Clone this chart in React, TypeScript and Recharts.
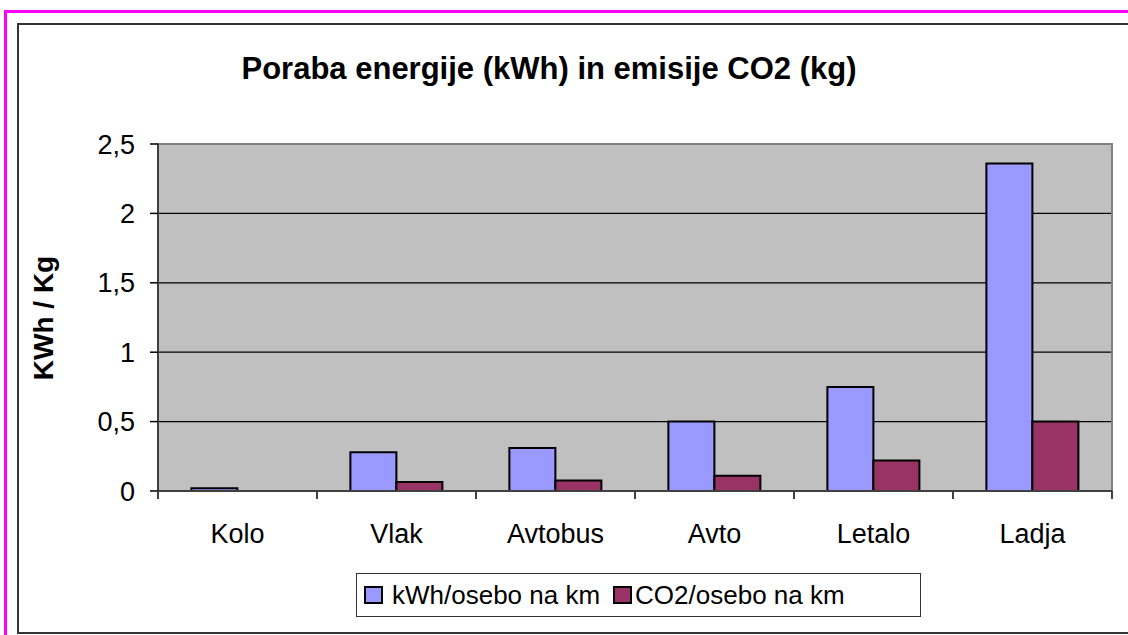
import React from 'react';
import { BarChart, Bar, XAxis, YAxis, CartesianGrid, ReferenceArea } from 'recharts';

const categories = ['Kolo', 'Vlak', 'Avtobus', 'Avto', 'Letalo', 'Ladja'];
const kwhPerKm = [0.02, 0.28, 0.31, 0.5, 0.75, 2.36];
const co2PerKm = [0, 0.065, 0.075, 0.11, 0.22, 0.5];
const yTicks = [0, 0.5, 1, 1.5, 2, 2.5];
const seriesNames = ['kWh/osebo na km', 'CO2/osebo na km'];
const seriesColors = ['#9999FF', '#993366'];

const data = categories.map((name, i) => ({ name, kwh: kwhPerKm[i], co2: co2PerKm[i] }));

const FONT = "'Liberation Sans', Arial, sans-serif";

// category labels centred in the band, tick marks on the band edges (Excel style)
function CategoryTick(props: any) {
  const { x, y, payload, index, visibleTicksCount } = props;
  const half = payload && payload.offset ? payload.offset : 79.5;
  const last = index === visibleTicksCount - 1;
  return (
    <g>
      <line x1={x - half} x2={x - half} y1={y} y2={y + 8} stroke="#404040" strokeWidth={2} />
      {last && <line x1={x + half} x2={x + half} y1={y} y2={y + 8} stroke="#404040" strokeWidth={2} />}
      <text x={x} y={y + 52} textAnchor="middle" fontSize={27} fill="#000">
        {payload.value}
      </text>
    </g>
  );
}

export default function App() {
  return (
    <div
      style={{
        position: 'absolute',
        left: 0,
        top: 0,
        width: 1128,
        height: 635,
        overflow: 'hidden',
        background: '#fff',
        fontFamily: FONT,
      }}
    >
      <div style={{ position: 'absolute', left: 4, top: 10, width: 1300, height: 800, border: '3px solid #FF00FF' }} />
      <div style={{ position: 'absolute', left: 17, top: 23, width: 1300, height: 607, border: '2px solid #333' }} />

      <div
        style={{
          position: 'absolute',
          left: 0,
          top: 53,
          width: 1098,
          textAlign: 'center',
          fontSize: 31,
          fontWeight: 'bold',
          lineHeight: 1,
          whiteSpace: 'nowrap',
        }}
      >
        Poraba energije (kWh) in emisije CO2 (kg)
      </div>

      <div
        style={{
          position: 'absolute',
          left: 44,
          top: 318,
          transform: 'translate(-50%, -50%) rotate(-90deg)',
          fontSize: 28,
          fontWeight: 'bold',
          lineHeight: 1,
          whiteSpace: 'nowrap',
        }}
      >
        KWh / Kg
      </div>

      <div style={{ position: 'absolute', left: 0, top: 0 }}>
        <BarChart
          width={1128}
          height={635}
          data={data}
          margin={{ top: 144, right: 16, bottom: 84, left: 0 }}
          barCategoryGap="21%"
          barGap={0}
        >
          <CartesianGrid vertical={false} stroke="#000" strokeWidth={1.2} fill="#C0C0C0" fillOpacity={1} />
          <ReferenceArea y1={0} y2={2.5} fill="none" fillOpacity={0} stroke="#808080" strokeWidth={2} />
          <XAxis
            dataKey="name"
            height={60}
            interval={0}
            tickLine={false}
            tickSize={0}
            tickMargin={0}
            axisLine={{ stroke: '#404040', strokeWidth: 2 }}
            tick={<CategoryTick />}
          />
          <YAxis
            type="number"
            domain={[0, 2.5]}
            ticks={yTicks}
            interval={0}
            width={158}
            tickSize={8}
            tickMargin={15}
            tickFormatter={(v: number) => String(v).replace('.', ',')}
            tick={{ fontSize: 27, fill: '#000' }}
            tickLine={{ stroke: '#000', strokeWidth: 1.5 }}
            axisLine={{ stroke: '#404040', strokeWidth: 2 }}
          />
          <Bar dataKey="kwh" name={seriesNames[0]} fill={seriesColors[0]} stroke="#000" strokeWidth={2} isAnimationActive={false} />
          <Bar dataKey="co2" name={seriesNames[1]} fill={seriesColors[1]} stroke="#000" strokeWidth={2} isAnimationActive={false} />
        </BarChart>
      </div>

      <div
        style={{
          position: 'absolute',
          left: 356,
          top: 573,
          width: 565,
          height: 44,
          boxSizing: 'border-box',
          border: '1px solid #333',
          background: '#fff',
          display: 'flex',
          alignItems: 'center',
          paddingLeft: 7,
          fontSize: 26,
          lineHeight: 1,
          whiteSpace: 'nowrap',
        }}
      >
        {seriesNames.map((s, i) => (
          <div key={s} style={{ display: 'flex', alignItems: 'center', marginLeft: i === 0 ? 0 : 13 }}>
            <span
              style={{
                display: 'inline-block',
                width: 19,
                height: 18,
                boxSizing: 'border-box',
                border: '2px solid #000',
                background: seriesColors[i],
                marginRight: i === 0 ? 9 : 3,
              }}
            />
            <span>{s}</span>
          </div>
        ))}
      </div>
    </div>
  );
}
